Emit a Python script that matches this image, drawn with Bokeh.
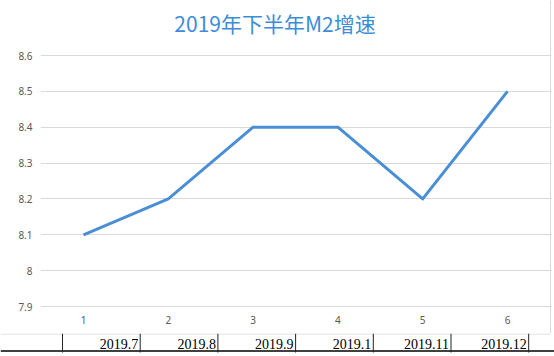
from bokeh.plotting import figure
from bokeh.models import Range1d, FixedTicker, Span, Label, CustomJSTickFormatter
from bokeh.layouts import column
from bokeh.core.properties import value
from bokeh.embed import file_html
from bokeh.resources import INLINE

# ---- data ----
title_text = "2019年下半年M2增速"
categories = [1, 2, 3, 4, 5, 6]
m2_growth = [8.1, 8.2, 8.4, 8.4, 8.2, 8.5]
y_ticks = [7.9, 8.0, 8.1, 8.2, 8.3, 8.4, 8.5, 8.6]
category_labels = ["1", "2", "3", "4", "5", "6"]
table_labels = ["2019.7", "2019.8", "2019.9", "2019.1", "2019.11", "2019.12"]

# ---- style ----
W = 554
LINE_BLUE = "#4A8FD6"
TITLE_BLUE = "#3C8CD8"
GRID = "#D9D9D9"
LABEL = "#595959"

p = figure(width=W, height=333,
           x_range=Range1d(0.4929, 6.5189), y_range=Range1d(7.8247, 8.7534),
           x_axis_type=None, output_backend="svg", toolbar_location=None,
           min_border_left=40, min_border_right=3, min_border_top=0, min_border_bottom=0)
p.frame_align = False
p.outline_line_color = None
p.background_fill_color = "white"
p.border_fill_color = "white"

p.yaxis.ticker = FixedTicker(ticks=y_ticks)
p.ygrid.ticker = FixedTicker(ticks=y_ticks)
p.ygrid.grid_line_color = GRID
p.ygrid.grid_line_width = 1
p.yaxis.axis_line_color = None
p.yaxis.major_tick_line_color = None
p.yaxis.minor_tick_line_color = None
p.yaxis.major_tick_out = 0
p.yaxis.major_tick_in = 0
p.yaxis.minor_tick_out = 0
p.yaxis.major_label_text_color = LABEL
p.yaxis.major_label_text_font = "Noto Sans"
p.yaxis.major_label_text_font_size = "10px"
p.yaxis.major_label_standoff = 8
p.yaxis.formatter = CustomJSTickFormatter(code="return String(Math.round(tick*10)/10)")

p.line(categories, m2_growth, line_width=3, line_color=LINE_BLUE, line_join="round")

cat_label_y = 7.861
p.text(x=categories, y=[cat_label_y] * len(categories), text=category_labels,
       text_align="center", text_baseline="middle", text_font=value("Noto Sans"),
       text_font_size="10px", text_color=LABEL)

p.add_layout(Span(location=6.507, dimension="height", line_color=GRID, line_width=1))

p.add_layout(Label(x=3.258, y=8.692, text=title_text, text_align="center",
                   text_baseline="middle", text_font="Noto Sans CJK SC",
                   text_font_size="21px", text_color=TITLE_BLUE))

# ---- table row under the chart ----
TH = 23
t = figure(width=W, height=TH, x_range=Range1d(0, W), y_range=Range1d(0, TH),
           x_axis_type=None, y_axis_type=None, output_backend="svg",
           toolbar_location=None, min_border_left=0, min_border_right=0,
           min_border_top=0, min_border_bottom=0)
t.frame_align = False
t.outline_line_color = None
t.xgrid.visible = False
t.ygrid.visible = False
t.background_fill_color = "white"
t.border_fill_color = "white"

t.segment(x0=[0], y0=[22.5], x1=[550], y1=[22.5], line_color=GRID, line_width=1)
t.segment(x0=[0], y0=[5.5], x1=[W], y1=[5.5], line_color="#000000", line_width=1.5)

cell_left, cell_w = 62, 77.7
edges = [cell_left + i * cell_w for i in range(len(table_labels) + 1)]
t.segment(x0=edges, y0=[4] * len(edges), x1=edges, y1=[TH] * len(edges),
          line_color="#222222", line_width=1)
t.text(x=[e - 2 for e in edges[1:]], y=[13] * len(table_labels), text=table_labels,
       text_align="right", text_baseline="middle", text_font=value("Liberation Serif"),
       text_font_size="14px", text_color="#000000")

layout = column(p, t, spacing=0)
open("out.html", "w").write(file_html(layout, INLINE))
